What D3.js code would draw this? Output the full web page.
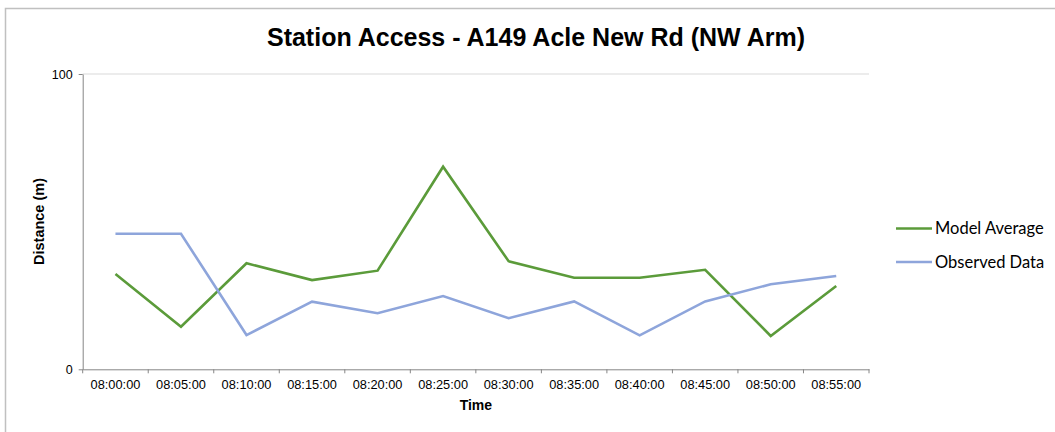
<!DOCTYPE html>
<html>
<head>
<meta charset="utf-8">
<script src="https://cdn.jsdelivr.net/npm/d3@7"></script>
<style>
  body { margin: 0; background: #fff; }
  svg { display: block; }
</style>
</head>
<body>
<div id="chart"></div>
<script>
// data
const times = ["08:00:00", "08:05:00", "08:10:00", "08:15:00", "08:20:00", "08:25:00",
               "08:30:00", "08:35:00", "08:40:00", "08:45:00", "08:50:00", "08:55:00"];
const modelAverage = [32.3, 14.4, 35.9, 30.2, 33.4, 68.6, 36.6, 31.0, 31.0, 33.7, 11.3, 28.2];
const observedData = [45.9, 45.9, 11.6, 22.9, 19.0, 24.8, 17.3, 23.0, 11.5, 23.0, 28.8, 31.6];
const yTicks = [0, 100];
const seriesNames = ["Model Average", "Observed Data"];
const seriesColors = ["#5B9B3A", "#8EA5DB"];

const W = 1055, H = 432;
const plot = { left: 82.7, right: 869, top: 74, bottom: 369.3 };
const arial = "Arial, 'Liberation Sans', sans-serif";

const svg = d3.select("#chart").append("svg")
    .attr("width", W)
    .attr("height", H)

// chart frame (runs off the right and bottom of the picture)
svg.append("rect")
    .attr("x", 5.5).attr("y", 8.5)
    .attr("width", 1200).attr("height", 600)
    .attr("fill", "none")
    .attr("stroke", "#c0c0c0")
    .attr("stroke-width", 1.5);

const x = d3.scaleBand(times, [plot.left, plot.right]);
const y = d3.scaleLinear([0, 100], [plot.bottom, plot.top]);

// gridline at 100
svg.append("g")
    .selectAll("line")
    .data(yTicks.filter(d => d > 0))
    .join("line")
    .attr("x1", plot.left).attr("x2", plot.right)
    .attr("y1", d => y(d)).attr("y2", d => y(d))
    .attr("stroke", "#d9d9d9")
    .attr("stroke-width", 1);

// y axis
const yAxis = svg.append("g")
    .attr("transform", `translate(${plot.left},0)`)
    .call(d3.axisLeft(y).tickValues(yTicks).tickSize(4).tickPadding(6).tickSizeOuter(0));
yAxis.select(".domain").attr("stroke", "#868686");
yAxis.selectAll(".tick line").attr("stroke", "#868686");
yAxis.selectAll(".tick text")
    .attr("font-family", arial)
    .attr("font-size", 12.5)
    .attr("fill", "#000");

// x axis, ticks on band edges
const xAxis = svg.append("g")
    .attr("transform", `translate(0,${plot.bottom})`)
    .call(d3.axisBottom(x).tickSize(0).tickPadding(11).tickSizeOuter(0));
xAxis.select(".domain").attr("stroke", "#868686");
xAxis.selectAll(".tick text")
    .attr("font-family", arial)
    .attr("font-size", 12.8)
    .attr("fill", "#000");
xAxis.append("g")
    .selectAll("line")
    .data(times.map(t => x(t)).concat([plot.right]))
    .join("line")
    .attr("x1", d => d).attr("x2", d => d)
    .attr("y1", 0).attr("y2", 4)
    .attr("stroke", "#868686");

// lines
const line = d3.line()
    .x((d, i) => x(times[i]) + x.bandwidth() / 2)
    .y(d => y(d));

svg.append("g")
    .attr("fill", "none")
    .attr("stroke-width", 2.6)
    .selectAll("path")
    .data([modelAverage, observedData])
    .join("path")
    .attr("stroke", (d, i) => seriesColors[i])
    .attr("d", line);

// titles
svg.append("text")
    .attr("x", 536).attr("y", 46)
    .attr("text-anchor", "middle")
    .attr("font-family", arial)
    .attr("font-weight", "bold")
    .attr("font-size", 25)
    .text("Station Access - A149 Acle New Rd (NW Arm)");

svg.append("text")
    .attr("x", (plot.left + plot.right) / 2).attr("y", 410)
    .attr("text-anchor", "middle")
    .attr("font-family", arial)
    .attr("font-weight", "bold")
    .attr("font-size", 14)
    .text("Time");

svg.append("text")
    .attr("transform", `translate(43.5,221.5) rotate(-90)`)
    .attr("text-anchor", "middle")
    .attr("font-family", arial)
    .attr("font-weight", "bold")
    .attr("font-size", 14.5)
    .text("Distance (m)");

// legend
const legend = svg.append("g")
    .selectAll("g")
    .data(seriesNames)
    .join("g")
    .attr("transform", (d, i) => `translate(896,${228.5 + i * 33.5})`);
legend.append("line")
    .attr("x1", 0).attr("x2", 36)
    .attr("stroke", (d, i) => seriesColors[i])
    .attr("stroke-width", 2.6);
legend.append("text")
    .attr("x", 39).attr("dy", "0.35em")
    .attr("font-family", "Lato, Carlito, sans-serif")
    .attr("font-size", 16.5)
    .attr("fill", "#000")
    .text(d => d);
</script>
</body>
</html>
